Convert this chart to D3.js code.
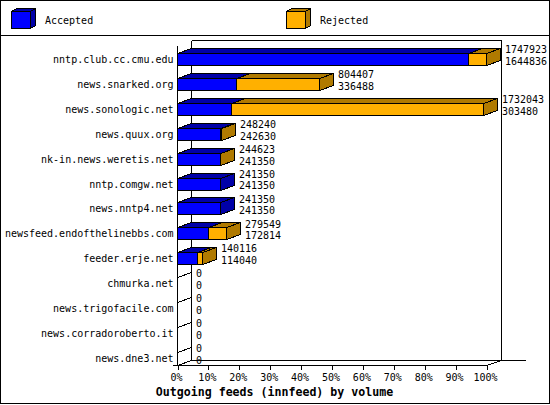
<!DOCTYPE html>
<html><head><meta charset="utf-8">
<script src="https://cdn.jsdelivr.net/npm/d3@7"></script>
<style>
body{margin:0;background:#fff}
svg{display:block}
text{font-family:"DejaVu Sans Mono","Liberation Mono",monospace;fill:#000}
</style>
</head><body>
<svg id="c" width="550" height="405"></svg>
<script>
// ---- data ----
const categories = [
  "nntp.club.cc.cmu.edu","news.snarked.org","news.sonologic.net","news.quux.org",
  "nk-in.news.weretis.net","nntp.comgw.net","news.nntp4.net","newsfeed.endofthelinebbs.com",
  "feeder.erje.net","chmurka.net","news.trigofacile.com","news.corradoroberto.it","news.dne3.net"
];
const accepted = [1644836, 336488, 303480, 242630, 241350, 241350, 241350, 172814, 114040, 0, 0, 0, 0];
const offered  = [1747923, 804407, 1732043, 248240, 244623, 241350, 241350, 279549, 140116, 0, 0, 0, 0];
const tickPercents = [0,10,20,30,40,50,60,70,80,90,100];
const seriesNames = ["Accepted","Rejected"];
const seriesColors = ["#0000ff","#ffb000"];
const seriesShades = ["#0000a8","#b07a00"];
const title = "Outgoing feeds (innfeed) by volume";

// ---- layout ----
const svg = d3.select("#c");
const X0 = 177, X1 = 486, DX = 14, DY = 5, BH = 12;
const maxV = d3.max(offered);
const x = d3.scaleLinear().domain([0, maxV]).range([X0, X1]);
const pct = d3.scaleLinear().domain([0, 100]).range([X0, X1]);
const y = d3.scalePoint().domain(categories).range([59, 357.8]);

svg.append("rect").attr("x",0).attr("y",0).attr("width",550).attr("height",405).attr("fill","#fff");

const crisp = g => g.attr("shape-rendering","crispEdges");
const line = (x1,y1,x2,y2) => svg.append("line").attr("x1",x1).attr("y1",y1).attr("x2",x2).attr("y2",y2)
  .attr("stroke","#000").attr("stroke-width",1).call(crisp);

// outer frame & legend separator
svg.append("rect").attr("x",0.5).attr("y",0.5).attr("width",549).attr("height",403)
  .attr("fill","none").attr("stroke","#000").call(crisp);
line(0,35.5,550,35.5);

// legend
const legendX = [11, 286];
seriesNames.forEach((name,k)=>{
  const lx = legendX[k], ly = 11, w = 19, h = 17, d = 5, dd = 3;
  svg.append("path").attr("d",`M${lx+0.5},${ly+0.5}L${lx+d+0.5},${ly-dd+0.5}L${lx+w+d+0.5},${ly-dd+0.5}L${lx+w+0.5},${ly+0.5}Z`)
    .attr("fill",seriesShades[k]).attr("stroke","#000").call(crisp);
  svg.append("path").attr("d",`M${lx+w+0.5},${ly+0.5}L${lx+w+d+0.5},${ly-dd+0.5}L${lx+w+d+0.5},${ly+h-dd+0.5}L${lx+w+0.5},${ly+h+0.5}Z`)
    .attr("fill",seriesShades[k]).attr("stroke","#000").call(crisp);
  svg.append("rect").attr("x",lx+0.5).attr("y",ly+0.5).attr("width",w).attr("height",h)
    .attr("fill",seriesColors[k]).attr("stroke","#000").call(crisp);
  svg.append("text").attr("x",lx+34).attr("y",20).attr("dy","0.35em").attr("font-size",10).text(name);
});

// back wall / axes
line(191.5,40.5,191.5,360.5);
line(191.5,40.5,501.5,40.5);
line(501.5,40.5,501.5,360.5);
line(191.5,360.5,526,360.5);
line(177.5,365.5,191.5,360.5);
line(486.5,365.5,501.5,360.5);
line(177.5,46,177.5,365.5);
line(173,365.5,486.5,365.5);

// bars
const bars = svg.append("g");
categories.forEach((cat,i)=>{
  const top = Math.round(y(cat) - 6) + 0.5, bot = top + BH;
  const segs = [[0, accepted[i]], [accepted[i], offered[i]]];
  if (offered[i] <= 0) {
    bars.append("line").attr("x1",X0+0.5).attr("y1",top).attr("x2",X0+DX+0.5).attr("y2",top-DY)
      .attr("stroke","#000").call(crisp);
    return;
  }
  let lastK = 0;
  segs.forEach(([a,b],k)=>{
    if (b - a <= 0) return;
    lastK = k;
    const xa = Math.round(x(a)) + 0.5, xb = Math.round(x(b)) + 0.5;
    bars.append("path").attr("d",`M${xa},${top}L${xa+DX},${top-DY}L${xb+DX},${top-DY}L${xb},${top}Z`)
      .attr("fill",seriesShades[k]).attr("stroke","#000").call(crisp);
    bars.append("rect").attr("x",xa).attr("y",top).attr("width",xb-xa).attr("height",BH)
      .attr("fill",seriesColors[k]).attr("stroke","#000").call(crisp);
  });
  const xe = Math.round(x(offered[i])) + 0.5;
  bars.append("path").attr("d",`M${xe},${top}L${xe+DX},${top-DY}L${xe+DX},${bot-DY}L${xe},${bot}Z`)
    .attr("fill",seriesShades[lastK]).attr("stroke","#000").call(crisp);
});

// value labels
categories.forEach((cat,i)=>{
  const lx = Math.round(x(offered[i])) + DX + 5;
  const c = y(cat);
  svg.append("text").attr("x",lx).attr("y",c-9.3).attr("dy","0.35em").attr("font-size",10).text(offered[i]);
  svg.append("text").attr("x",lx).attr("y",c+2.4).attr("dy","0.35em").attr("font-size",10).text(accepted[i]);
});

// category labels
const yAxis = svg.append("g").attr("transform",`translate(${X0},0)`)
  .call(d3.axisLeft(y).tickSize(0).tickPadding(3.5));
yAxis.select(".domain").remove();
yAxis.selectAll("text").attr("font-size",10).attr("font-family","DejaVu Sans Mono").attr("dy","0.35em");

// bottom axis
const xAxis = svg.append("g").attr("transform","translate(0,365.5)")
  .call(d3.axisBottom(pct).tickValues(tickPercents).tickFormat(d=>d+"%").tickSize(4).tickSizeOuter(0));
xAxis.select(".domain").remove();
xAxis.selectAll("line").attr("shape-rendering","crispEdges").attr("transform","translate(0.5,0)");
xAxis.selectAll("text").attr("font-size",10).attr("font-family","DejaVu Sans Mono")
  .attr("y",12).attr("dy","0.35em").attr("x",-1);

// title
svg.append("text").attr("x",274.5).attr("y",392).attr("dy","0.35em").attr("text-anchor","middle")
  .attr("font-size",11.6).attr("font-weight","bold").text(title);
</script>
</body></html>
